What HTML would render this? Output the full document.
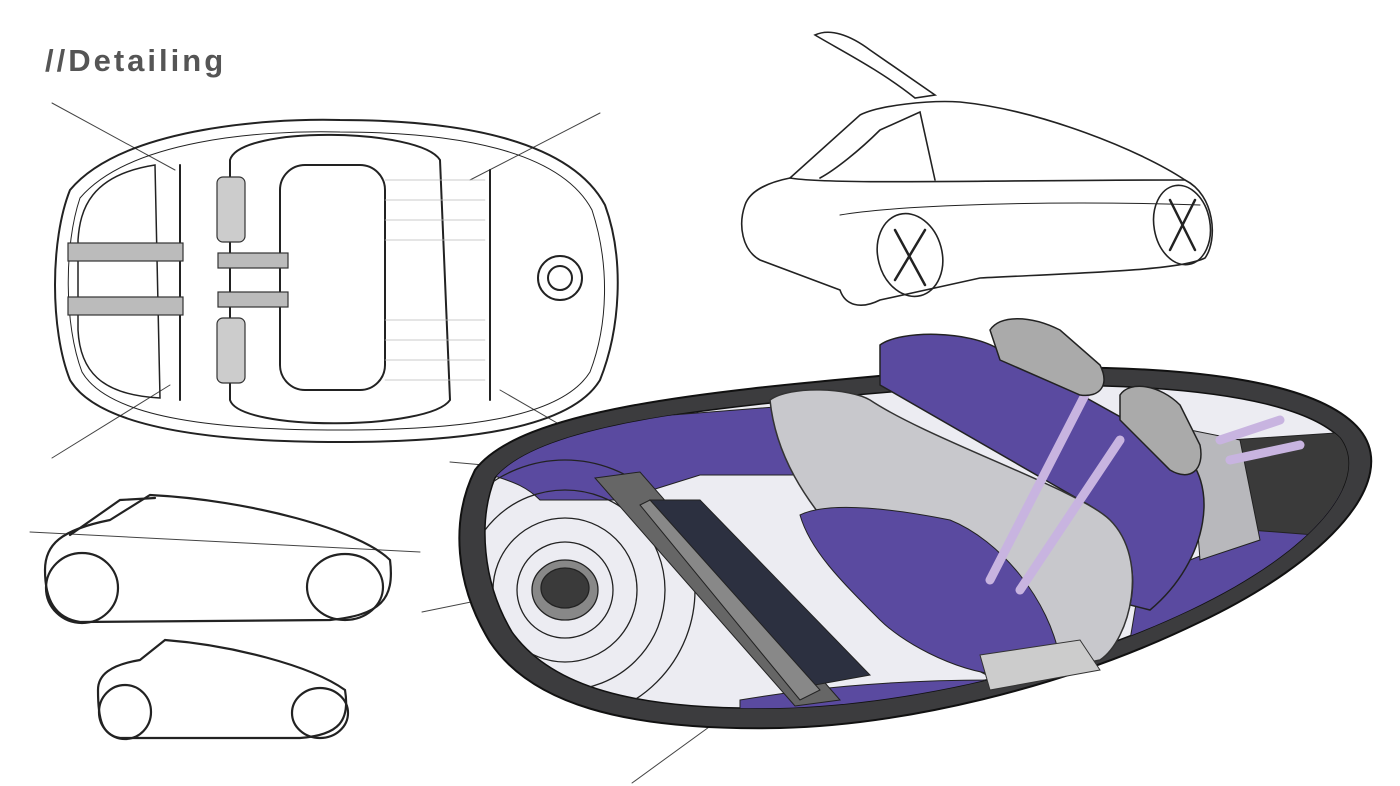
<!DOCTYPE html>
<html><head><meta charset="utf-8"><style>
html,body{margin:0;padding:0;background:#fff;width:1400px;height:786px;overflow:hidden}
svg{position:absolute;left:0;top:0}
.t{font-family:"Liberation Sans",sans-serif;font-weight:bold;font-size:31px;fill:#555;letter-spacing:3px}
</style></head><body>
<svg width="1400" height="786" viewBox="0 0 1400 786" xmlns="http://www.w3.org/2000/svg" fill="none" stroke="#222" stroke-linecap="round">
<defs>
<clipPath id="inner"><path d="M495,478 C540,425 700,408 890,392 C1040,380 1280,378 1340,438 C1370,478 1320,548 1190,610 C1060,672 900,705 780,708 C630,711 550,685 512,632 C482,582 478,520 495,478 Z"/></clipPath>
</defs>
<text class="t" x="45" y="71" stroke="none">//Detailing</text>

<g stroke="#444" stroke-width="1">
<line x1="52" y1="103" x2="175" y2="170"/><line x1="600" y1="113" x2="470" y2="180"/>
<line x1="52" y1="458" x2="170" y2="385"/><line x1="500" y1="390" x2="590" y2="442"/>
<line x1="450" y1="462" x2="540" y2="470"/><line x1="422" y1="612" x2="530" y2="590"/>
<line x1="632" y1="783" x2="760" y2="690"/><line x1="1290" y1="430" x2="1340" y2="413"/>
<line x1="30" y1="532" x2="420" y2="552"/>
</g>

<!-- top view car -->
<g stroke-width="2">
<path d="M70,190 C120,130 260,118 340,120 C460,120 570,140 605,205 C625,260 620,330 600,380 C570,430 460,442 340,442 C220,442 100,430 70,380 C50,330 50,240 70,190 Z"/>
<path d="M80,198 C130,140 260,130 340,132 C455,132 560,150 592,210 C610,265 608,325 590,372 C560,420 455,430 340,430 C225,430 110,420 82,372 C64,325 64,245 80,198 Z" stroke-width="1"/>
<path d="M230,160 C240,125 420,128 440,160 L450,400 C430,430 240,432 230,400 Z"/>
<rect x="280" y="165" width="105" height="225" rx="25"/>
<line x1="180" y1="165" x2="180" y2="400"/><line x1="490" y1="170" x2="490" y2="400"/>
<path d="M155,165 C90,175 80,210 78,240 L78,330 C80,370 100,395 160,398 Z" stroke-width="1.5"/>
<circle cx="560" cy="278" r="22"/><circle cx="560" cy="278" r="12"/>
</g>
<g fill="#bbb" stroke="#333" stroke-width="1.2">
<rect x="68" y="243" width="115" height="18"/><rect x="68" y="297" width="115" height="18"/>
<rect x="218" y="253" width="70" height="15"/><rect x="218" y="292" width="70" height="15"/>
<rect x="217" y="177" width="28" height="65" rx="6" fill="#ccc"/><rect x="217" y="318" width="28" height="65" rx="6" fill="#ccc"/>
</g>
<g stroke="#bbb" stroke-width="0.7">
<line x1="385" y1="180" x2="485" y2="180"/><line x1="385" y1="200" x2="485" y2="200"/><line x1="385" y1="220" x2="485" y2="220"/><line x1="385" y1="240" x2="485" y2="240"/><line x1="385" y1="320" x2="485" y2="320"/><line x1="385" y1="340" x2="485" y2="340"/><line x1="385" y1="360" x2="485" y2="360"/><line x1="385" y1="380" x2="485" y2="380"/>
</g>

<!-- side view cars -->
<g stroke-width="2.2">
<path d="M45,570 C45,545 60,530 110,520 L150,495 C250,500 360,530 390,560 C395,600 380,615 330,620 L80,622 C55,618 45,600 45,570 Z"/>
<ellipse cx="82" cy="588" rx="36" ry="35"/><ellipse cx="345" cy="587" rx="38" ry="33"/>
<path d="M70,535 L120,500 L155,498" />
<path d="M98,690 C98,675 110,665 140,660 L165,640 C230,645 310,665 345,690 C350,720 340,735 300,738 L120,738 C102,735 98,720 98,690 Z"/>
<ellipse cx="125" cy="712" rx="26" ry="27"/><ellipse cx="320" cy="713" rx="28" ry="25"/>
</g>

<!-- 3/4 view car -->
<g stroke-width="1.6">
<path d="M745,205 C750,190 770,182 790,178 L860,115 C880,105 930,100 960,102 C1040,110 1140,150 1185,180 C1215,195 1218,240 1205,258 C1180,270 1100,272 980,278 L880,300 C860,310 845,305 840,290 L760,260 C742,250 738,225 745,205 Z"/>
<path d="M790,178 C830,185 1000,180 1185,180"/>
<path d="M815,35 C830,28 850,35 870,50 L935,95 L915,98 C880,70 840,50 815,35 Z"/>
<path d="M880,130 L920,112 L935,180 M880,130 C860,150 835,170 820,178"/>
<ellipse cx="910" cy="255" rx="32" ry="42" transform="rotate(-15 910 255)"/>
<ellipse cx="1182" cy="225" rx="28" ry="40" transform="rotate(-10 1182 225)"/>
<path d="M895,230 L925,285 M925,230 L895,280 M1170,200 L1195,250 M1195,200 L1170,250" stroke-width="2.5"/>
<path d="M840,215 C900,205 1050,200 1200,205" stroke-width="1"/>
</g>

<!-- interior render -->
<path d="M475,470 C520,410 700,392 890,375 C1050,362 1300,358 1360,430 C1400,480 1330,560 1200,622 C1060,690 900,725 780,728 C620,731 530,702 490,642 C455,585 450,520 475,470 Z" fill="#3c3c3e" stroke="#111" stroke-width="2"/>
<path d="M495,478 C540,425 700,408 890,392 C1040,380 1280,378 1340,438 C1370,478 1320,548 1190,610 C1060,672 900,705 780,708 C630,711 550,685 512,632 C482,582 478,520 495,478 Z" fill="#ececf2" stroke="#111" stroke-width="1.5"/>
<g clip-path="url(#inner)">
<path d="M480,430 L800,405 L800,475 L700,475 L620,500 L540,500 C520,480 500,480 480,470 Z" fill="#5a4aa0"/>
<g stroke="#222" stroke-width="1.3">
<circle cx="565" cy="590" r="130"/>
<circle cx="565" cy="590" r="100"/>
<circle cx="565" cy="590" r="72"/>
<circle cx="565" cy="590" r="48"/>
<ellipse cx="565" cy="590" rx="33" ry="30" fill="#888"/>
<ellipse cx="565" cy="588" rx="24" ry="20" fill="#3a3a3a"/>
</g>
<path d="M740,700 C800,690 880,680 990,680 L1130,640 L1140,580 L1240,540 L1380,470 L1380,760 L740,760 Z" fill="#5a4aa0"/>
<path d="M1230,440 L1380,430 L1380,540 L1250,530 Z" fill="#3a3a3a"/>
<path d="M1190,430 L1240,440 L1260,540 L1200,560 Z" fill="#b8b8bc"/>
</g>
<!-- center bar -->
<path d="M595,478 L640,472 L840,700 L795,706 Z" fill="#666" stroke="#222"/>
<path d="M650,500 L700,500 L870,675 L815,685 Z" fill="#2c3040"/>
<path d="M640,505 L650,500 L820,690 L800,700 Z" fill="#888"/>
<!-- seat back purple -->
<path d="M880,345 C900,330 970,330 1000,350 L1180,450 C1220,480 1210,560 1150,610 L1130,605 C1140,560 1120,520 1080,500 L880,385 Z" fill="#5a4aa0" stroke="#222" stroke-width="1.5"/>
<!-- grey seat shell -->
<path d="M770,400 C790,385 850,388 870,400 C930,440 1080,490 1110,520 C1150,560 1130,640 1100,660 L1000,680 C960,670 900,600 860,560 C800,500 775,450 770,400 Z" fill="#c8c8cc" stroke="#333" stroke-width="1.5"/>
<path d="M800,515 C830,500 900,510 950,520 C1000,540 1050,600 1060,660 L1000,675 C950,670 900,640 880,620 C840,580 810,550 800,515 Z" fill="#5a4aa0" stroke="#222"/>
<path d="M980,655 L1080,640 L1100,670 L990,690 Z" fill="#ccc" stroke="#333"/>
<g stroke="#c8b4e0" stroke-width="9">
<line x1="1085" y1="395" x2="990" y2="580"/><line x1="1120" y1="440" x2="1020" y2="590"/>
<line x1="1220" y1="440" x2="1280" y2="420"/><line x1="1230" y1="460" x2="1300" y2="445"/>
</g>
<path d="M990,330 C1000,315 1030,315 1060,330 L1100,365 C1110,385 1100,398 1080,395 L1000,360 Z" fill="#aaa" stroke="#222" stroke-width="1.5"/>
<path d="M1120,395 C1130,380 1160,385 1180,405 L1200,445 C1205,470 1190,482 1170,470 L1120,420 Z" fill="#aaa" stroke="#222" stroke-width="1.5"/>
</svg>
</body></html>
